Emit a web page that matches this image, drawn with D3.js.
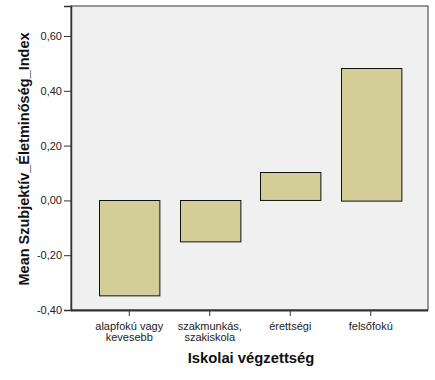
<!DOCTYPE html>
<html><head><meta charset="utf-8">
<script src="https://cdn.jsdelivr.net/npm/d3@7/dist/d3.min.js"></script>
<style>body{margin:0;background:#fff}svg{display:block}</style>
</head><body><svg id="c" width="435" height="380"></svg>
<script>
const categories = [["alapfokú vagy","kevesebb"],["szakmunkás,","szakiskola"],["érettségi"],["felsőfokú"]];
const values = [-0.348, -0.151, 0.102, 0.484];
const yTicks = [-0.4, -0.2, 0.0, 0.2, 0.4, 0.6];
const yTitle = "Mean Szubjektív_Életminőség_Index";
const xTitle = "Iskolai végzettség";

const svg = d3.select("#c");
const L = 71, R = 428, T = 6, B = 310;
const y = d3.scaleLinear().domain([-0.4, -0.4 + (B - T) / 274]).range([B, T]);
const keys = categories.map(c => c.join(" "));
const x = d3.scaleBand().domain(keys).range([89, 411]).paddingInner(0.25).paddingOuter(0.125);

svg.append("rect").attr("x", L).attr("y", T).attr("width", R - L).attr("height", B - T)
  .attr("fill", "#f0f0f0").attr("stroke", "#555").attr("stroke-width", 1.2);

svg.append("g").selectAll("rect").data(values).join("rect")
  .attr("x", (d, i) => Math.round(x(keys[i])) + 0.5)
  .attr("width", x.bandwidth())
  .attr("y", d => Math.round(y(Math.max(0, d))) + 0.5)
  .attr("height", d => Math.abs(y(d) - y(0)))
  .attr("fill", "#d3ce97").attr("stroke", "#111").attr("stroke-width", 1);

const fmt = d => d3.format(".2f")(d).replace(".", ",").replace("−", "-");
const ya = svg.append("g").attr("transform", `translate(${L},0)`)
  .call(d3.axisLeft(y).tickValues(yTicks).tickSize(7).tickPadding(2).tickFormat(fmt));
ya.select(".domain").attr("stroke", "#333").attr("stroke-width", 1.5);
ya.selectAll(".tick line").attr("stroke", "#333");
ya.selectAll("text").attr("font-family", "Arial, 'Liberation Sans', sans-serif").attr("font-size", 11).attr("fill", "#222");

const xa = svg.append("g").attr("transform", `translate(0,${B})`)
  .call(d3.axisBottom(x).tickSize(6).tickSizeOuter(0).tickFormat(""));
xa.select(".domain").attr("stroke", "#333").attr("stroke-width", 2)
  .attr("d", `M${L},0.5H${R}`);
xa.selectAll(".tick line").attr("stroke", "#333");
xa.selectAll(".tick").each(function(d, i) {
  const t = d3.select(this).append("text").attr("fill", "#222")
    .attr("font-family", "Arial, 'Liberation Sans', sans-serif").attr("font-size", 11)
    .attr("text-anchor", "middle");
  categories[i].forEach((s, j) => t.append("tspan").attr("x", 0).attr("y", 20 + j * 11).text(s));
});

svg.append("text").attr("x", 251).attr("y", 363).attr("text-anchor", "middle")
  .attr("font-family", "Arial, 'Liberation Sans', sans-serif").attr("font-weight", "bold")
  .attr("font-size", 14.8).attr("fill", "#111").text(xTitle);
svg.append("text").attr("transform", "translate(29,159) rotate(-90)").attr("text-anchor", "middle")
  .attr("font-family", "Arial, 'Liberation Sans', sans-serif").attr("font-weight", "bold")
  .attr("font-size", 14.5).attr("fill", "#111").text(yTitle);
</script></body></html>
